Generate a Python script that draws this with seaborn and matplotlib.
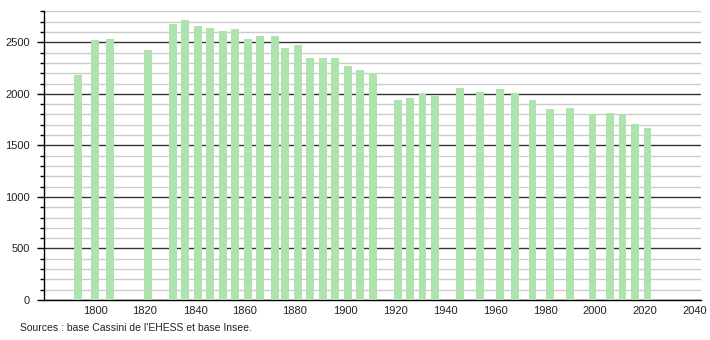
import matplotlib
matplotlib.use("Agg")
import matplotlib.pyplot as plt
import seaborn as sns
import pandas as pd
from matplotlib.ticker import MultipleLocator

years = [1793, 1800, 1806, 1821, 1831, 1836, 1841, 1846, 1851, 1856, 1861, 1866,
         1872, 1876, 1881, 1886, 1891, 1896, 1901, 1906, 1911, 1921, 1926, 1931,
         1936, 1946, 1954, 1962, 1968, 1975, 1982, 1990, 1999, 2006, 2011, 2016, 2021]
population = [2182, 2522, 2528, 2425, 2677, 2713, 2658, 2638, 2606, 2628, 2531, 2561,
              2561, 2444, 2473, 2347, 2347, 2347, 2270, 2231, 2199, 1943, 1959, 1995,
              1979, 2056, 2017, 2046, 2008, 1940, 1853, 1862, 1801, 1814, 1794, 1704, 1668]
x_ticks = list(range(1800, 2041, 20))
y_ticks = list(range(0, 2501, 500))
source = "Sources : base Cassini de l'EHESS et base Insee."

sns.set_theme(style="white")
plt.rcParams['font.family'] = ['Liberation Sans', 'DejaVu Sans']

df = pd.DataFrame({"year": years, "pop": population})

fig = plt.figure(figsize=(7.1, 3.4), dpi=100)
ax = fig.add_axes([44/710, 1-300/340, (701-44)/710, (300-11.4)/340])

sns.barplot(data=df, x="year", y="pop", native_scale=True, width=0.8,
            color="#aee3ae", saturation=1, linewidth=0, ax=ax, zorder=3)

ax.set_xlim(1779.6, 2042.4)
ax.set_ylim(0, 2800)
ax.set_xticks(x_ticks)
ax.set_xticklabels([str(t) for t in x_ticks])
ax.set_yticks(y_ticks)
ax.set_yticklabels([str(t) for t in y_ticks])
ax.yaxis.set_minor_locator(MultipleLocator(100))

ax.grid(which="major", axis="y", color="#333333", linewidth=1.0, zorder=1)
ax.grid(which="minor", axis="y", color="#cccccc", linewidth=1.0, zorder=1)
ax.grid(axis="x", visible=False)
ax.set_axisbelow(True)

for s in ["top", "right"]:
    ax.spines[s].set_visible(False)
ax.spines["left"].set_color("black")
ax.spines["bottom"].set_color("black")
ax.spines["left"].set_linewidth(1.0)
ax.spines["bottom"].set_linewidth(1.0)

ax.tick_params(axis="y", which="major", left=True, length=5, width=1, color="black",
               labelsize=8, pad=5, labelcolor="#222222")
ax.tick_params(axis="y", which="minor", left=True, length=3, width=1, color="black")
ax.tick_params(axis="x", which="both", bottom=False, length=0, labelsize=8, pad=4,
               labelcolor="#222222")
ax.set_xlabel("")
ax.set_ylabel("")

fig.text(20/710, 1-328/340, source, fontsize=7.5, color="#222222", va="center", ha="left")

fig.savefig("out.png", dpi=100)
